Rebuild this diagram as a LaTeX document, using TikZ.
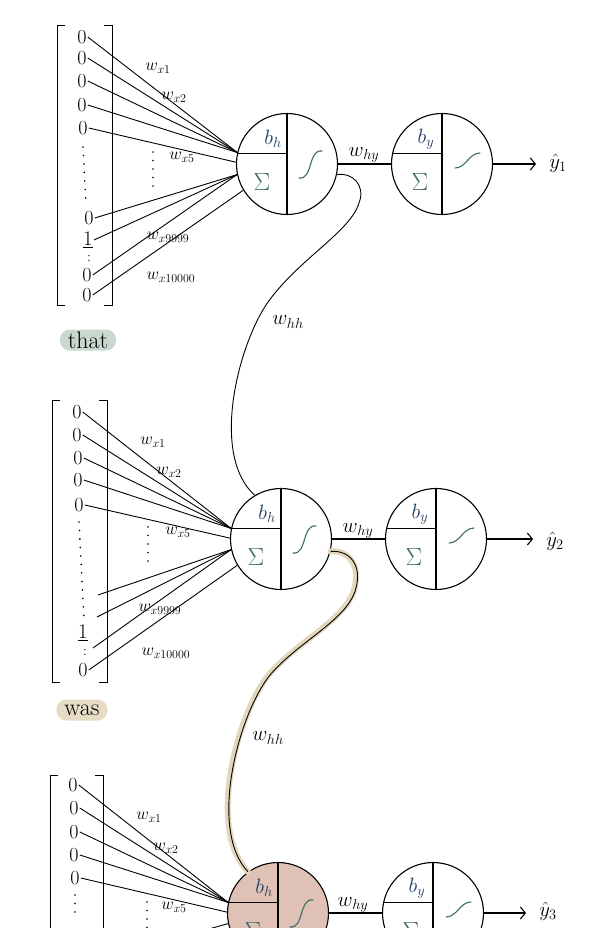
\documentclass[tikz,border=0pt]{standalone}
\usetikzlibrary{arrows.meta}
\definecolor{sigteal}{HTML}{3E6B6B}
\definecolor{biasblue}{HTML}{1E3D63}
\definecolor{pillgreen}{HTML}{C9D9D0}
\definecolor{pillbeige}{HTML}{E6DCC6}
\definecolor{halo}{HTML}{E2D6BC}
\definecolor{activepink}{HTML}{DFC2B5}
\newcommand\cellsplit[1]{%
  \draw[cellline] (#1.north) -- (#1.south);
  \draw[cellline] (#1.168) -- (#1.168 -| #1.center);}
\begin{document}
\begin{tikzpicture}[x=1pt,y=-1pt,
  neuron/.style={circle,draw,line width=1.1pt,minimum size=101pt,inner sep=0pt},
  cellline/.style={line width=1.1pt},
  wire/.style={line width=0.9pt},
  digit/.style={inner sep=1pt,font=\fontsize{20}{20}\selectfont},
  colon/.style={inner sep=0pt,font=\fontsize{14}{14}\selectfont},
  wlab/.style={inner sep=0pt,font=\fontsize{17}{17}\selectfont},
  biglab/.style={inner sep=0pt,font=\fontsize{21}{21}\selectfont},
  bias/.style={inner sep=0pt,text=biasblue,font=\fontsize{22}{22}\selectfont},
  sumlab/.style={inner sep=0pt,text=sigteal,font=\fontsize{24}{24}\selectfont},
  sig/.style={draw=sigteal,line width=1.1pt,line cap=round},
  dotcol/.style={line width=1.8pt,line cap=round,dash pattern=on 0pt off 8.5pt},
  brack/.style={line width=0.9pt},
  pill/.style={rounded corners=10pt,minimum height=21pt,inner xsep=8pt,inner ysep=0pt,font=\fontsize{24}{24}\selectfont},
  outarrow/.style={line width=1.1pt,shorten >=13pt,-{Straight Barb[length=5pt,width=12pt,line width=1.1pt]}},
  yhat/.style={inner sep=0pt,font=\fontsize{22}{22}\selectfont},
]
\useasboundingbox (0,0) rectangle (612,928);
\clip (0,0) rectangle (612,928);

% ---------------- time step 1 ----------------
\draw[brack] (65,25) -- (57,25) -- (57,305) -- (65,305);
\draw[brack] (104,25) -- (112,25) -- (112,305) -- (104,305);
\node[digit] (a1) at (82,37) {0};
\node[digit] (a2) at (82,58) {0};
\node[digit] (a3) at (82,81) {0};
\node[digit] (a4) at (82,105) {0};
\node[digit] (a5) at (83,128) {0};
\draw[dotcol] (83,147) -- (86,204);
\node[digit] (a6) at (89,218) {0};
\node[digit] (a7) at (88,240) {$\underline{1}$};
\node[colon] (a7c) at (89,258) {:};
\node[digit] (a8) at (87,275) {0};
\node[digit] (a9) at (87,295) {0};

\node[neuron] (h1) at (287,164) {};
\node[neuron] (o1) at (442,164) {};
\cellsplit{h1}
\cellsplit{o1}
\node[bias] (bh1) at ([shift={(-14,-25)}]h1.center) {$b_h$};
\node[sumlab] (sh1) at ([shift={(-25,18)}]h1.center) {$\Sigma$};
\draw[sig] ([shift={(12,14)}]h1.center) .. controls +(14,2) and +(-14,-2) .. ([shift={(35,-13)}]h1.center);
\node[bias] (by1) at ([shift={(-16,-25)}]o1.center) {$b_y$};
\node[sumlab] (so1) at ([shift={(-22,18)}]o1.center) {$\Sigma$};
\draw[sig] ([shift={(13,4)}]o1.center) .. controls +(11,0) and +(-11,0) .. ([shift={(38,-11)}]o1.center);

\foreach \i in {1,...,4} \draw[wire] (a\i.east) -- (h1.167);
\draw[wire] (a5.east) -- (h1.178);
\foreach \i in {6,7,8} \draw[wire] (a\i.east) -- (h1.192);
\draw[wire] (a9.east) -- (h1.211);
\draw[dotcol] (153,152) -- (153,194);
\node[wlab] (l11) at (158,68) {$w_{x1}$};
\node[wlab] (l12) at (174,97) {$w_{x2}$};
\node[wlab] (l15) at (182,157) {$w_{x5}$};
\node[wlab] (l19) at (168,237) {$w_{x9999}$};
\node[wlab] (l10) at (171,277) {$w_{x10000}$};

\node[biglab] (why1) at (364,155) {$w_{hy}$};
\draw[cellline] (h1.east) -- (o1.west);
\node[yhat] (y1) at (558,163) {$\hat{y}_1$};
\draw[outarrow] (o1.east) -- (o1.east -| y1.west);

\node[pill,fill=pillgreen] (tok1) at (88,340) {that};

% ---------------- time step 2 ----------------
\draw[brack] (60,400) -- (52,400) -- (52,682) -- (60,682);
\draw[brack] (99,400) -- (107,400) -- (107,682) -- (99,682);
\node[digit] (b1) at (77,412) {0};
\node[digit] (b2) at (77,435) {0};
\node[digit] (b3) at (78,458) {0};
\node[digit] (b4) at (78,480) {0};
\node[digit] (b5) at (79,505) {0};
\draw[dotcol] (79,522) -- (84,620);
\node[digit] (b7) at (83,633) {$\underline{1}$};
\node[colon] (b7c) at (85,652) {:};
\node[digit] (b9) at (83,670) {0};
\coordinate (bs1) at (98,595);
\coordinate (bs2) at (97,617);
\coordinate (bs3) at (93,648);

\node[neuron] (h2) at (281,539) {};
\node[neuron] (o2) at (436,539) {};
\cellsplit{h2}
\cellsplit{o2}
\node[bias] (bh2) at ([shift={(-14,-25)}]h2.center) {$b_h$};
\node[sumlab] (sh2) at ([shift={(-25,18)}]h2.center) {$\Sigma$};
\draw[sig] ([shift={(12,14)}]h2.center) .. controls +(14,2) and +(-14,-2) .. ([shift={(35,-13)}]h2.center);
\node[bias] (by2) at ([shift={(-16,-25)}]o2.center) {$b_y$};
\node[sumlab] (so2) at ([shift={(-22,18)}]o2.center) {$\Sigma$};
\draw[sig] ([shift={(13,4)}]o2.center) .. controls +(11,0) and +(-11,0) .. ([shift={(38,-11)}]o2.center);

\foreach \i in {1,...,4} \draw[wire] (b\i.east) -- (h2.168);
\draw[wire] (b5.east) -- (h2.179);
\foreach \c in {bs1,bs2,bs3} \draw[wire] (\c) -- (h2.192);
\draw[wire] (b9.east) -- (h2.211);
\draw[dotcol] (148,527) -- (148,569);
\node[wlab] (l21) at (153,442) {$w_{x1}$};
\node[wlab] (l22) at (169,472) {$w_{x2}$};
\node[wlab] (l25) at (178,532) {$w_{x5}$};
\node[wlab] (l29) at (160,609) {$w_{x9999}$};
\node[wlab] (l20) at (166,653) {$w_{x10000}$};

\node[biglab] (why2) at (358,531) {$w_{hy}$};
\draw[cellline] (h2.east) -- (o2.west);
\node[yhat] (y2) at (555,541) {$\hat{y}_2$};
\draw[outarrow] (o2.east) -- (o2.east -| y2.west);

\node[pill,fill=pillbeige] (tok2) at (82,710) {was};

% ---------------- time step 3 ----------------
\draw[brack] (58,775) -- (50,775) -- (50,940);
\draw[brack] (95,775) -- (103,775) -- (103,940);
\node[digit] (c1) at (73,785) {0};
\node[digit] (c2) at (74,808) {0};
\node[digit] (c3) at (74,832) {0};
\node[digit] (c4) at (74,855) {0};
\node[digit] (c5) at (75,878) {0};
\draw[dotcol] (75,895) -- (75,920);
\node[digit] (c7) at (74,938) {$\underline{1}$};
\coordinate (cs1) at (98,960);

\node[neuron,fill=activepink] (h3) at (278,913) {};
\node[neuron] (o3) at (433,913) {};
\cellsplit{h3}
\cellsplit{o3}
\node[bias] (bh3) at ([shift={(-14,-25)}]h3.center) {$b_h$};
\node[sumlab] (sh3) at ([shift={(-25,18)}]h3.center) {$\Sigma$};
\draw[sig] ([shift={(12,14)}]h3.center) .. controls +(14,2) and +(-14,-2) .. ([shift={(35,-13)}]h3.center);
\node[bias] (by3) at ([shift={(-16,-25)}]o3.center) {$b_y$};
\node[sumlab] (so3) at ([shift={(-22,18)}]o3.center) {$\Sigma$};
\draw[sig] ([shift={(13,4)}]o3.center) .. controls +(11,0) and +(-11,0) .. ([shift={(38,-11)}]o3.center);

\foreach \i in {1,...,4} \draw[wire] (c\i.east) -- (h3.168);
\draw[wire] (c5.east) -- (h3.179);
\draw[wire] (cs1) -- (h3.192);
\draw[dotcol] (147,902) -- (147,930);
\node[wlab] (l31) at (149,817) {$w_{x1}$};
\node[wlab] (l32) at (166,848) {$w_{x2}$};
\node[wlab] (l35) at (174,907) {$w_{x5}$};

\node[biglab] (why3) at (353,905) {$w_{hy}$};
\draw[cellline] (h3.east) -- (o3.west);
\node[yhat] (y3) at (548,911) {$\hat{y}_3$};
\draw[outarrow] (o3.east) -- (o3.east -| y3.west);

% ---------------- recurrent connections ----------------
\draw[wire] (h1.-12) .. controls (352,172) and (366,185) .. (359,203)
  .. controls (350,232) and (300,258) .. (268,302)
  .. controls (238,345) and (210,455) .. (h2.121);
\node[biglab] (whh1) at (288,322) {$w_{hh}$};

\draw[halo,line width=6pt,line cap=round,shift={(-1.5,0)}] (h2.-14) .. controls (350,550) and (362,565) .. (356,588)
  .. controls (348,620) and (300,640) .. (270,675)
  .. controls (238,715) and (208,830) .. (h3.126);
\draw[wire] (h2.-14) .. controls (350,550) and (362,565) .. (356,588)
  .. controls (348,620) and (300,640) .. (270,675)
  .. controls (238,715) and (208,830) .. (h3.126);
\node[biglab] (whh2) at (268,738) {$w_{hh}$};
\end{tikzpicture}
\end{document}
